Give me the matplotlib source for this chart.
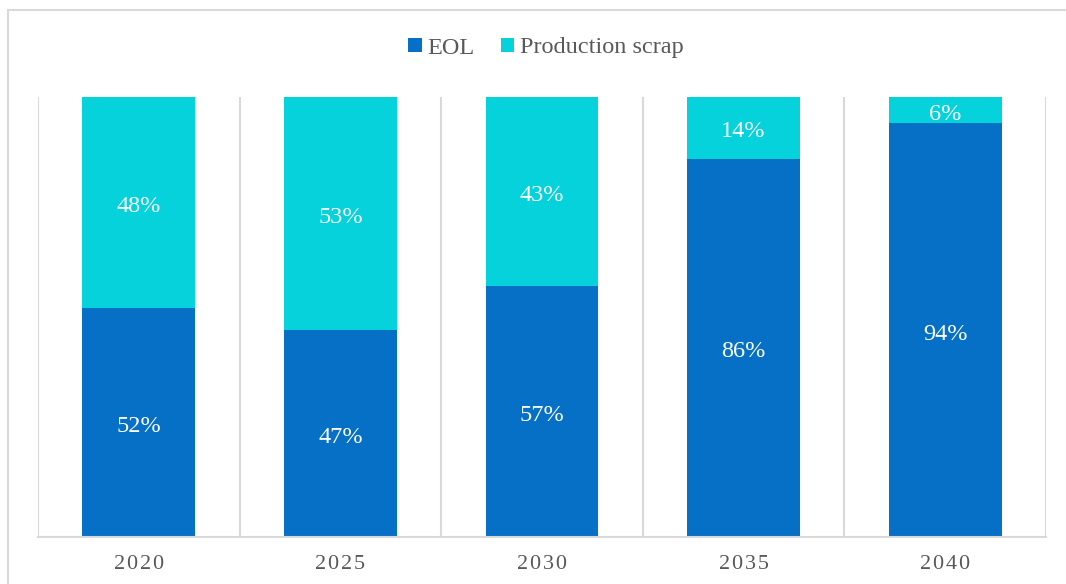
import matplotlib
matplotlib.use("Agg")
import matplotlib.pyplot as plt
from matplotlib.patches import Rectangle
import numpy as np

years = ["2020", "2025", "2030", "2035", "2040"]
eol = [52, 47, 57, 86, 94]
scrap = [48, 53, 43, 14, 6]

EOL_COLOR = "#0670C7"
SCRAP_COLOR = "#05D2DA"
GRID = "#d9d9d9"
TEXT = "#595959"

plt.rcParams["font.family"] = ["Liberation Serif", "DejaVu Serif"]

fig = plt.figure(figsize=(10.66, 5.84), dpi=100)
ax = fig.add_axes([38 / 1066, 1 - 537 / 584, (1046 - 38) / 1066, (537 - 97) / 584])

# light frame around the whole chart (right and bottom edges run off the canvas)
fig.patches.append(Rectangle((8 / 1066, -0.1), 1.5, 1 - 10 / 584 + 0.1,
                             transform=fig.transFigure, fill=False,
                             edgecolor=GRID, linewidth=1.5, clip_on=False))

x = np.arange(len(years))
width = 0.56
b1 = ax.bar(x, eol, width, color=EOL_COLOR, label="EOL", zorder=2)
b2 = ax.bar(x, scrap, width, bottom=eol, color=SCRAP_COLOR,
            label="Production scrap", zorder=2)

for i in range(len(years)):
    ax.annotate(f"{eol[i]}%", (x[i], eol[i] / 2), xytext=(0, -3),
                textcoords="offset points", ha="center", va="center",
                color="white", fontsize=17.5)
    ax.annotate(f"{scrap[i]}%", (x[i], eol[i] + scrap[i] / 2), xytext=(0, -3),
                textcoords="offset points", ha="center", va="center",
                color="white", fontsize=17.5)

ax.set_xlim(-0.5, len(years) - 0.5)
ax.set_ylim(0, 100)

# vertical separators between categories
for b in np.arange(-0.5, len(years), 1.0):
    ax.axvline(b, color=GRID, linewidth=1.5, zorder=1)

for s in ["top", "left", "right"]:
    ax.spines[s].set_visible(False)
ax.spines["bottom"].set_color(GRID)
ax.spines["bottom"].set_linewidth(1.5)

ax.set_yticks([])
ax.set_xticks(x)
ax.set_xticklabels(["\u200a".join(y) for y in years], fontsize=16, color=TEXT)
ax.tick_params(axis="x", length=0, pad=13)

fig.legend(handles=[b1, b2], loc="center", bbox_to_anchor=(546 / 1066, 1 - 48 / 584),
           ncol=2, frameon=False, fontsize=17.5, labelcolor=TEXT,
           handlelength=0.55, handleheight=0.55, handletextpad=0.25,
           columnspacing=1.05)

fig.savefig("out.png", dpi=100)
